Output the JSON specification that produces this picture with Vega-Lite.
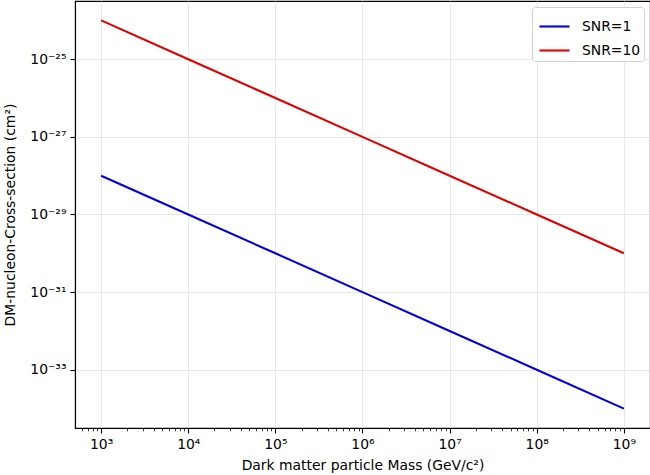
{
  "$schema": "https://vega.github.io/schema/vega-lite/v6.json",
  "autosize": {"type": "none"},
  "width": 575,
  "height": 427,
  "padding": {"left": 75, "top": 1, "right": 0, "bottom": 47},
  "data": {
    "values": [
      {"mass": 1e3, "sigma": 1e-28, "snr": "SNR=1"},
      {"mass": 1e4, "sigma": 1e-29, "snr": "SNR=1"},
      {"mass": 1e5, "sigma": 1e-30, "snr": "SNR=1"},
      {"mass": 1e6, "sigma": 1e-31, "snr": "SNR=1"},
      {"mass": 1e7, "sigma": 1e-32, "snr": "SNR=1"},
      {"mass": 1e8, "sigma": 1e-33, "snr": "SNR=1"},
      {"mass": 1e9, "sigma": 1e-34, "snr": "SNR=1"},
      {"mass": 1e3, "sigma": 1e-24, "snr": "SNR=10"},
      {"mass": 1e4, "sigma": 1e-25, "snr": "SNR=10"},
      {"mass": 1e5, "sigma": 1e-26, "snr": "SNR=10"},
      {"mass": 1e6, "sigma": 1e-27, "snr": "SNR=10"},
      {"mass": 1e7, "sigma": 1e-28, "snr": "SNR=10"},
      {"mass": 1e8, "sigma": 1e-29, "snr": "SNR=10"},
      {"mass": 1e9, "sigma": 1e-30, "snr": "SNR=10"}
    ]
  },
  "mark": {"type": "line", "strokeWidth": 2.1, "clip": true},
  "encoding": {
    "x": {
      "field": "mass",
      "type": "quantitative",
      "scale": {"type": "log", "domain": [501.2, 1995262315], "nice": false},
      "title": "Dark matter particle Mass (GeV/c²)",
      "axis": {
        "values": [600, 700, 800, 900,
          1000, 2000, 3000, 4000, 5000, 6000, 7000, 8000, 9000,
          10000, 20000, 30000, 40000, 50000, 60000, 70000, 80000, 90000,
          100000, 200000, 300000, 400000, 500000, 600000, 700000, 800000, 900000,
          1000000, 2000000, 3000000, 4000000, 5000000, 6000000, 7000000, 8000000, 9000000,
          10000000, 20000000, 30000000, 40000000, 50000000, 60000000, 70000000, 80000000, 90000000,
          100000000, 200000000, 300000000, 400000000, 500000000, 600000000, 700000000, 800000000, 900000000,
          1000000000],
        "labelExpr": "abs(log(datum.value)/LN10 - round(log(datum.value)/LN10)) < 0.001 ? '10' + ['⁰','¹','²','³','⁴','⁵','⁶','⁷','⁸','⁹'][round(log(datum.value)/LN10)] : ''",
        "tickSize": {"condition": {"test": "abs(log(datum.value)/LN10 - round(log(datum.value)/LN10)) < 0.001", "value": 5}, "value": 2.8},
        "tickWidth": {"condition": {"test": "abs(log(datum.value)/LN10 - round(log(datum.value)/LN10)) < 0.001", "value": 1.1}, "value": 0.8},
        "gridOpacity": {"condition": {"test": "abs(log(datum.value)/LN10 - round(log(datum.value)/LN10)) < 0.001", "value": 1}, "value": 0},
        "labelPadding": 4,
        "titlePadding": 8
      }
    },
    "y": {
      "field": "sigma",
      "type": "quantitative",
      "scale": {"type": "log", "domain": [3.162e-35, 3.162e-24], "nice": false},
      "title": "DM-nucleon-Cross-section (cm²)",
      "axis": {
        "values": [1e-33, 1e-31, 1e-29, 1e-27, 1e-25],
        "labelExpr": "'10' + ['⁻²⁵','','⁻²⁷','','⁻²⁹','','⁻³¹','','⁻³³'][round(-log(datum.value)/LN10) - 25]",
        "tickSize": 5,
        "tickWidth": 1.1,
        "labelPadding": 4,
        "titlePadding": 12
      }
    },
    "color": {
      "field": "snr",
      "type": "nominal",
      "scale": {"domain": ["SNR=1", "SNR=10"], "range": ["#0000e0", "#e00000"]},
      "legend": {
        "title": null,
        "orient": "top-right",
        "offset": 6,
        "fillColor": "white",
        "strokeColor": "#d0d0d0",
        "cornerRadius": 3,
        "padding": 3,
        "symbolType": "stroke",
        "symbolSize": 900,
        "symbolOffset": 3,
        "symbolStrokeWidth": 2.1,
        "labelOffset": 11,
        "labelFontSize": 13.9,
        "labelFont": "DejaVu Sans",
        "labelColor": "black",
        "rowPadding": -8
      }
    }
  },
  "config": {
    "view": {"stroke": "black", "strokeWidth": 1.1},
    "axis": {
      "domainColor": "black",
      "domainWidth": 1.1,
      "tickColor": "black",
      "grid": true,
      "gridColor": "#e2e2e2",
      "gridWidth": 0.8,
      "labelFont": "DejaVu Sans",
      "labelFontSize": 13.9,
      "labelColor": "black",
      "titleFont": "DejaVu Sans",
      "titleFontSize": 13.9,
      "titleFontWeight": "normal",
      "titleColor": "black"
    }
  }
}
